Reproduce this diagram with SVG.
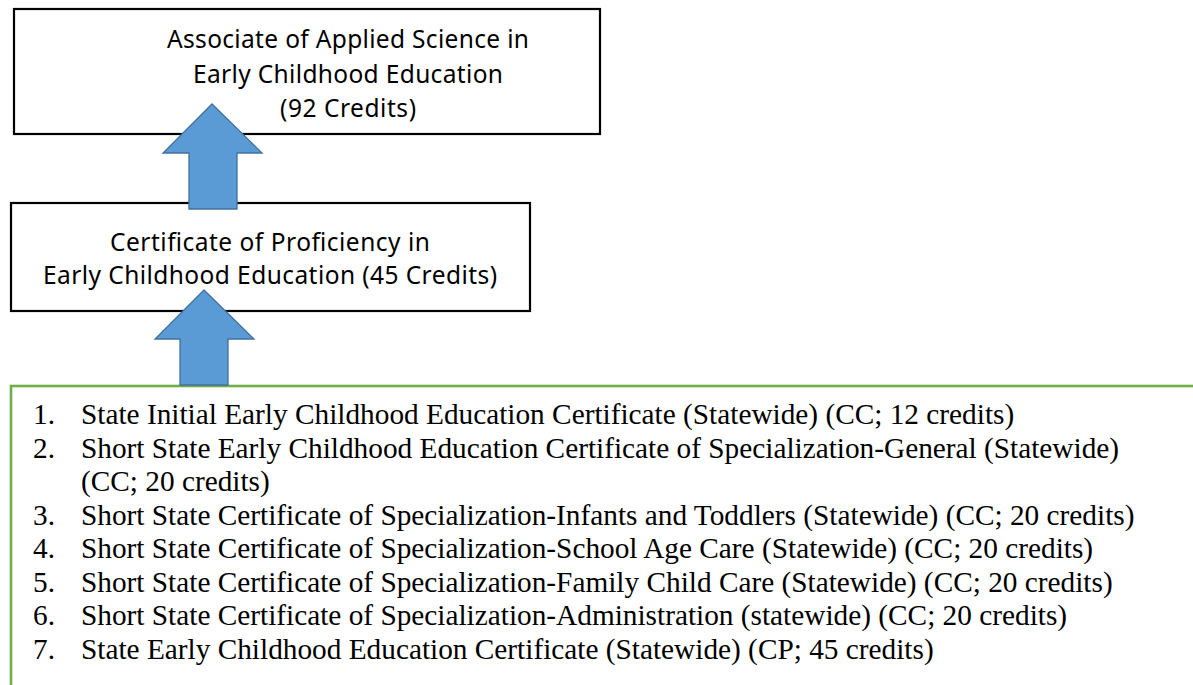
<svg xmlns="http://www.w3.org/2000/svg" width="1193" height="685" viewBox="0 0 1193 685">
<defs>
<style>
.box{fill:#ffffff;stroke:#000000;stroke-width:2.2}
.green{fill:#ffffff;stroke:#70AD47;stroke-width:2.6}
.arrow{fill:#5B9BD5;stroke:#41719C;stroke-width:1.3}
.sans{font-family:"Noto Sans","Liberation Sans",sans-serif;font-size:24.5px;fill:#000000;text-anchor:middle}
.serif{font-family:"Liberation Serif","Times New Roman",serif;font-size:29.3px;fill:#000000}
</style>
</defs>
<rect width="1193" height="685" fill="#ffffff"/>
<g id="node-aas">
<rect class="box" x="14" y="9" width="586" height="125"/>
<text class="sans" x="348" y="48" textLength="362" lengthAdjust="spacing">Associate of Applied Science in</text>
<text class="sans" x="348" y="83" textLength="310" lengthAdjust="spacing">Early Childhood Education</text>
<text class="sans" x="348" y="117" textLength="136" lengthAdjust="spacing">(92 Credits)</text>
</g>
<g id="node-cp">
<rect class="box" x="11" y="203" width="519" height="108"/>
<text class="sans" x="270" y="251" textLength="320" lengthAdjust="spacing">Certificate of Proficiency in</text>
<text class="sans" x="270" y="284" textLength="454" lengthAdjust="spacing">Early Childhood Education (45 Credits)</text>
</g>
<g id="node-list">
<rect class="green" x="11" y="386" width="1200" height="320"/>
<text class="serif" x="33" y="424">1.</text>
<text class="serif" x="81" y="424">State Initial Early Childhood Education Certificate (Statewide) (CC; 12 credits)</text>
<text class="serif" x="33" y="457.5">2.</text>
<text class="serif" x="81" y="457.5">Short State Early Childhood Education Certificate of Specialization-General (Statewide)</text>
<text class="serif" x="81" y="491">(CC; 20 credits)</text>
<text class="serif" x="33" y="524.5">3.</text>
<text class="serif" x="81" y="524.5">Short State Certificate of Specialization-Infants and Toddlers (Statewide) (CC; 20 credits)</text>
<text class="serif" x="33" y="558">4.</text>
<text class="serif" x="81" y="558">Short State Certificate of Specialization-School Age Care (Statewide) (CC; 20 credits)</text>
<text class="serif" x="33" y="591.5">5.</text>
<text class="serif" x="81" y="591.5">Short State Certificate of Specialization-Family Child Care (Statewide) (CC; 20 credits)</text>
<text class="serif" x="33" y="625">6.</text>
<text class="serif" x="81" y="625">Short State Certificate of Specialization-Administration (statewide) (CC; 20 credits)</text>
<text class="serif" x="33" y="658.5">7.</text>
<text class="serif" x="81" y="658.5">State Early Childhood Education Certificate (Statewide) (CP; 45 credits)</text>
</g>
<g id="connectors">
<polygon class="arrow" points="212,104 262,153 237,153 237,209 189,209 189,153 163,153"/>
<polygon class="arrow" points="204,290 254,339 228,339 228,385 180,385 180,339 155,339"/>
</g>
</svg>
